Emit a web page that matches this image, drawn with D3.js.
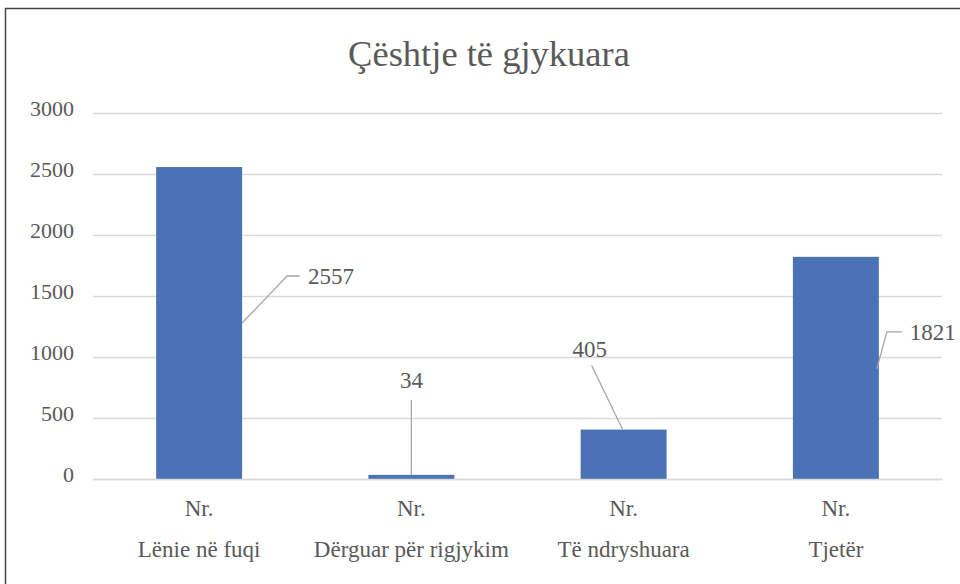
<!DOCTYPE html>
<html><head><meta charset="utf-8">
<style>body{margin:0;background:#fff;font-family:"Liberation Serif",serif}svg{display:block}#warm{position:absolute;left:0;top:0;font-family:"Liberation Serif";font-size:23px;color:#fff;opacity:0.01;z-index:-1}</style>
<script src="https://cdn.jsdelivr.net/npm/d3@7"></script>
</head><body>
<div id="warm">Çështje të gjykuara Nr. Lënie Dërguar 0123456789</div>
<svg id="c" width="960" height="584" font-family="Liberation Serif"></svg>
<script>
const categories = ["Lënie në fuqi", "Dërguar për rigjykim", "Të ndryshuara", "Tjetër"];
const seriesName = "Nr.";
const values = [2557, 34, 405, 1821];
const yTicks = [0, 500, 1000, 1500, 2000, 2500, 3000];
const title = "Çështje të gjykuara";

const svg = d3.select("#c");
const txt = "#595959";
const FF = "Liberation Serif";

function draw(){
svg.selectAll("*").remove();
svg.append("rect").attr("x",5.5).attr("y",8.5).attr("width",970).attr("height",600)
  .attr("fill","#fff").attr("stroke","#444").attr("stroke-width",1.5);

const x = d3.scaleBand().domain(categories).range([93, 942]).paddingInner(0.595).paddingOuter(0.2975);
const y = d3.scaleLinear().domain([0, 3000]).range([479, 113]);

svg.append("text").attr("x",489).attr("y",66).attr("text-anchor","middle")
  .attr("font-family",FF).attr("font-size",36.5).attr("fill",txt).text(title);

const ya = svg.append("g").attr("transform","translate(93,0)")
  .call(d3.axisLeft(y).tickValues(yTicks).tickSize(-849).tickPadding(19).tickFormat(d3.format("d")));
ya.attr("font-family",FF).attr("font-size",22);
ya.select(".domain").remove();
ya.selectAll(".tick line").attr("stroke","#d9d9d9").attr("stroke-width",1.5);
ya.selectAll(".tick text").attr("font-family",FF).attr("font-size",22).attr("dy","0.12em").attr("fill",txt);

svg.append("g").selectAll("rect").data(values).join("rect")
  .attr("x",(d,i)=>x(categories[i])).attr("width",x.bandwidth())
  .attr("y",d=>y(d)).attr("height",d=>y(0)-y(d)).attr("fill","#4a72b5");

const xa = svg.append("g").attr("transform","translate(0,479)")
  .call(d3.axisBottom(x).tickSize(0).tickFormat(""));
xa.attr("font-family",FF).attr("font-size",23);
xa.select(".domain").attr("stroke","#d9d9d9").attr("stroke-width",1.5);
xa.selectAll(".tick text").remove();
xa.selectAll(".tick").each(function(d){
  const g = d3.select(this);
  g.append("text").attr("y",37).attr("text-anchor","middle")
    .attr("font-family",FF).attr("font-size",23).attr("fill",txt).text(seriesName);
  g.append("text").attr("y",78).attr("text-anchor","middle")
    .attr("font-family",FF).attr("font-size",23).attr("fill",txt).text(d);
});

// data labels with leader lines (offsets relative to bars)
const labelSpecs = [
  {path: (bx0,bx1,by,v)=>[[bx1, y(v*0.5)],[bx1+45, y(v*0.5)-47],[bx1+58, y(v*0.5)-47]], tx: (bx0,bx1,by,v)=>[bx1+66, y(v*0.5)-47], anchor:"start"},
  {path:(bx0,bx1,by,v)=>[[(bx0+bx1)/2, by],[(bx0+bx1)/2, by-75]], tx:(bx0,bx1,by,v)=>[(bx0+bx1)/2, by-94], anchor:"middle"},
  {path:(bx0,bx1,by,v)=>[[(bx0+bx1)/2-1, by],[(bx0+bx1)/2-32, by-64]], tx:(bx0,bx1,by,v)=>[(bx0+bx1)/2-34, by-80], anchor:"middle"},
  {path:(bx0,bx1,by,v)=>[[bx1-2, y(v*0.5)+1],[bx1+8, y(v*0.5)-36],[bx1+23, y(v*0.5)-36]], tx:(bx0,bx1,by,v)=>[bx1+31, y(v*0.5)-36], anchor:"start"}
];
values.forEach((v,i)=>{
  const bx0 = x(categories[i]), bx1 = bx0 + x.bandwidth(), by = y(v);
  const s = labelSpecs[i];
  svg.append("path").attr("d", d3.line()(s.path(bx0,bx1,by,v)))
    .attr("fill","none").attr("stroke","#a6a6a6").attr("stroke-width",1.3);
  const [tx,ty] = s.tx(bx0,bx1,by,v);
  svg.append("text").attr("x",tx).attr("y",ty).attr("dy","0.33em").attr("text-anchor",s.anchor)
    .attr("font-family",FF).attr("font-size",23).attr("fill",txt).text(v);
});
}
draw();
if (document.fonts && document.fonts.ready) {
  document.fonts.ready.then(()=>draw()).catch(()=>{});
}
requestAnimationFrame(()=>draw());
</script>
</body></html>
